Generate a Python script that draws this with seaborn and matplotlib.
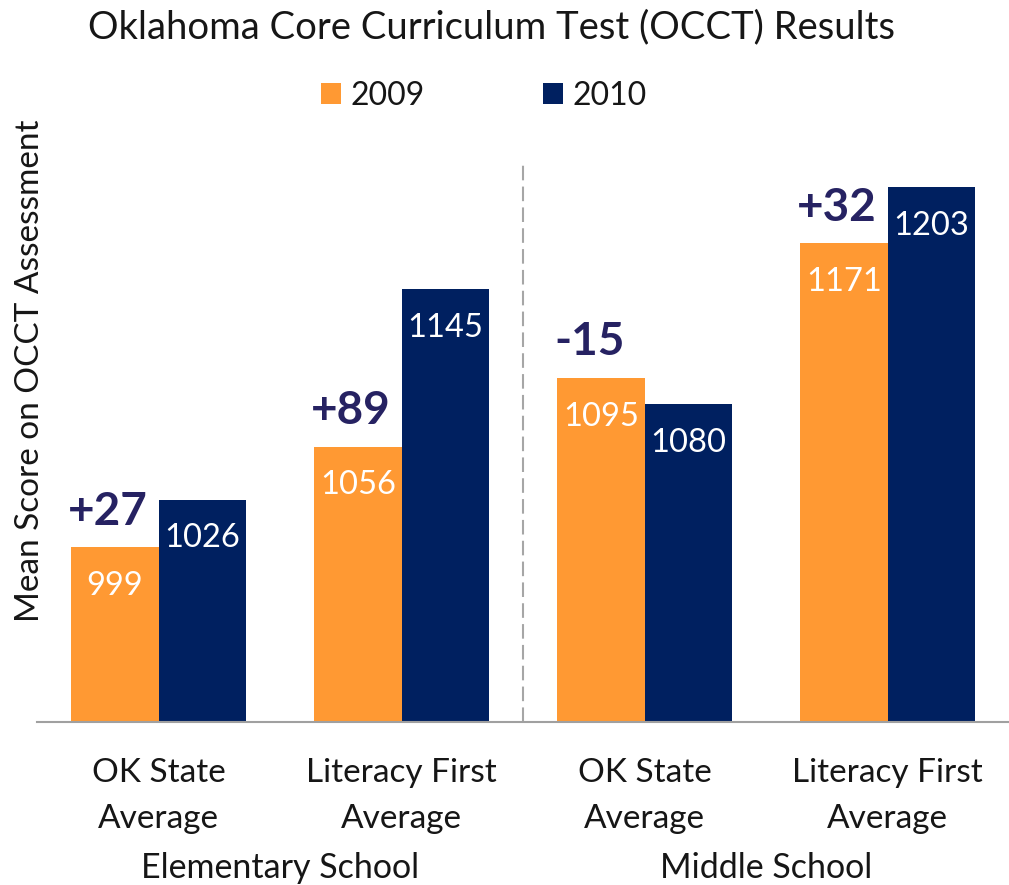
import matplotlib
matplotlib.use("Agg")
import pandas as pd
import matplotlib.pyplot as plt
import matplotlib.transforms as mtransforms
from matplotlib.patches import Patch
import seaborn as sns

# ----------------------------
# Data
# ----------------------------
categories = ["Elem OK State", "Elem Literacy First", "Middle OK State", "Middle Literacy First"]
tick_labels = ["OK State\nAverage", "Literacy First\nAverage", "OK State\nAverage", "Literacy First\nAverage"]
school_levels = ["Elementary School", "Middle School"]
years = ["2009", "2010"]
scores_2009 = [999, 1056, 1095, 1171]
scores_2010 = [1026, 1145, 1080, 1203]

colors = {"2009": "#FF9933", "2010": "#002060"}
diff_color = "#262262"
text_color = "#161616"

df = pd.DataFrame({
    "Category": categories * 2,
    "Year": [years[0]] * 4 + [years[1]] * 4,
    "Score": scores_2009 + scores_2010,
})

# ----------------------------
# Plot
# ----------------------------
sns.set_theme(style="white")
plt.rcParams["font.family"] = ["Lato", "DejaVu Sans"]

W, H = 1009, 885
fig = plt.figure(figsize=(W / 100, H / 100), dpi=100)
ax = fig.add_axes([37 / W, 1 - 722 / H, 1 - 37 / W, (722 - 104) / H])

sns.barplot(data=df, x="Category", y="Score", hue="Year", palette=colors,
            width=0.72, saturation=1, linewidth=0, legend=False, ax=ax)
ax.set_ylim(900, 1250)
ax.set_xlim(-0.5, 3.5)

# axes styling
for side in ["left", "right", "top"]:
    ax.spines[side].set_visible(False)
ax.spines["bottom"].set_color("#A0A0A0")
ax.spines["bottom"].set_linewidth(1.5)
ax.set_yticks([])
ax.set_ylabel("")
ax.set_xlabel("")
ax.set_xticks(range(len(categories)))
ax.set_xticklabels(tick_labels, fontsize=24, color=text_color, linespacing=1.68)
ax.tick_params(axis="x", length=0, pad=26)

# divider between school levels
ax.axvline(1.5, ymin=0, ymax=0.91, color="#A6A6A6", linewidth=1.5, linestyle=(0, (7, 3)))

# value labels inside bars
for container in ax.containers:
    for bar in container:
        h = bar.get_height()
        ax.annotate(f"{h:.0f}", (bar.get_x() + bar.get_width() / 2, h),
                    xytext=(0, -28), textcoords="offset points",
                    ha="center", va="center", color="white", fontsize=23.5)

# change labels above the 2009 bars
for i, (a, b) in enumerate(zip(scores_2009, scores_2010)):
    bar = ax.containers[0][i]
    ax.annotate(f"{b - a:+d}", (bar.get_x(), a),
                xytext=(-2, 16), textcoords="offset points",
                ha="left", va="baseline", color=diff_color,
                fontsize=33, fontweight="bold")

# school level labels
trans = mtransforms.blended_transform_factory(ax.transData, fig.transFigure)
for pos, name in zip([0.5, 2.5], school_levels):
    ax.text(pos, 1 - 878 / H, name, transform=trans, ha="center", va="baseline",
            fontsize=24.5, color=text_color)

# title, y label, legend
fig.text(491 / W, 1 - 38 / H, "Oklahoma Core Curriculum Test (OCCT) Results",
         ha="center", va="baseline", fontsize=27.5, color=text_color)
fig.text(30 / W, 1 - 371 / H, "Mean Score on OCCT Assessment", rotation=90,
         ha="center", va="center", fontsize=24, color=text_color)

handles = [Patch(facecolor=colors[y], edgecolor="none") for y in years]
fig.legend(handles, years, loc="center", bbox_to_anchor=(484 / W, 1 - 96 / H),
           ncol=2, frameon=False, fontsize=23, handlelength=0.62, handleheight=0.62,
           handletextpad=0.3, columnspacing=3.7, labelcolor=text_color)

fig.savefig("out.png", dpi=100)
